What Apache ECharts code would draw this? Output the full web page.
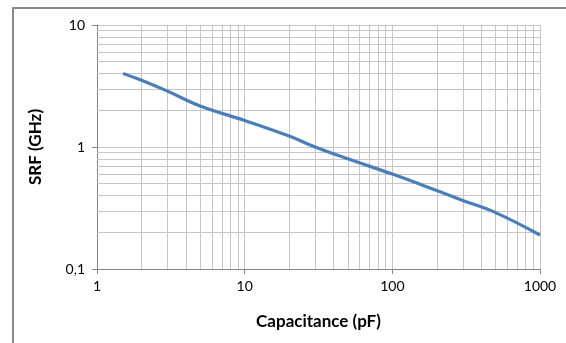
<!DOCTYPE html>
<html>
<head>
<meta charset="utf-8">
<script src="https://cdn.jsdelivr.net/npm/echarts@6/dist/echarts.min.js"></script>
<style>
  html, body { margin: 0; padding: 0; background: #fff; }
  #chart { width: 566px; height: 343px; }
</style>
</head>
<body>
<div id="chart"></div>
<script>
  // capacitance (pF) and self resonant frequency (GHz)
  var capacitance = [1.5, 2, 3, 5, 10, 20, 30, 50, 100, 200, 300, 500, 1000];
  var srf = [4.0, 3.52, 2.87, 2.17, 1.65, 1.23, 1.0, 0.8, 0.6, 0.44, 0.365, 0.29, 0.19];

  // intermediate log grid lines (2..9 of each decade)
  var minorX = [2, 3, 4, 5, 6, 7, 8, 9, 20, 30, 40, 50, 60, 70, 80, 90, 200, 300, 400, 500, 600, 700, 800, 900];
  var minorY = [0.2, 0.3, 0.4, 0.5, 0.6, 0.7, 0.8, 0.9, 2, 3, 4, 5, 6, 7, 8, 9];

  var gridColor = '#c6c6c6';
  var axisColor = '#868686';
  var font = 'Lato, sans-serif';

  var points = capacitance.map(function (c, i) { return [c, srf[i]]; });

  var minorLines = [];
  minorX.forEach(function (v) { minorLines.push({ xAxis: v }); });
  minorY.forEach(function (v) { minorLines.push({ yAxis: v }); });

  function fmt(v) { return String(+(+v).toPrecision(6)).replace('.', ','); }

  var chart = echarts.init(document.getElementById('chart'));
  chart.setOption({
    animation: false,
    grid: { left: 97, right: 26, top: 25, bottom: 74 },
    graphic: [{
      type: 'rect',
      shape: { x: 13, y: 8, width: 600, height: 400 },
      style: { fill: 'none', stroke: '#8a8a8a', lineWidth: 2 },
      silent: true
    }],
    xAxis: {
      type: 'log',
      logBase: 10,
      min: 1,
      max: 1000,
      name: 'Capacitance (pF)',
      nameLocation: 'middle',
      nameGap: 44,
      nameTextStyle: { fontFamily: font, fontWeight: 'bold', fontSize: 17, color: '#000' },
      axisLine: { lineStyle: { color: axisColor, width: 1 } },
      axisTick: { show: true, length: 5, lineStyle: { color: axisColor } },
      axisLabel: { fontFamily: font, fontSize: 14, color: '#000', margin: 10, formatter: fmt },
      splitLine: { show: true, lineStyle: { color: gridColor, width: 1 } }
    },
    yAxis: {
      type: 'log',
      logBase: 10,
      min: 0.1,
      max: 10,
      name: 'SRF (GHz)',
      nameLocation: 'middle',
      nameGap: 53,
      nameRotate: 90,
      nameTextStyle: { fontFamily: font, fontWeight: 'bold', fontSize: 17, color: '#000' },
      axisLine: { show: true, lineStyle: { color: axisColor, width: 1 } },
      axisTick: { show: true, length: 5, lineStyle: { color: axisColor } },
      axisLabel: { fontFamily: font, fontSize: 14, color: '#000', margin: 12, formatter: fmt },
      splitLine: { show: true, lineStyle: { color: gridColor, width: 1 } }
    },
    series: [
      {
        name: 'grid',
        type: 'line',
        data: points,
        showSymbol: false,
        silent: true,
        z: 1,
        lineStyle: { opacity: 0 },
        markLine: {
          silent: true,
          symbol: 'none',
          label: { show: false },
          lineStyle: { color: gridColor, width: 1, type: 'solid' },
          data: minorLines
        }
      },
      {
        name: 'SRF',
        type: 'line',
        data: points,
        smooth: 0.4,
        showSymbol: false,
        z: 5,
        lineStyle: { color: '#4a7ebb', width: 3.2 }
      }
    ]
  });
</script>
</body>
</html>
